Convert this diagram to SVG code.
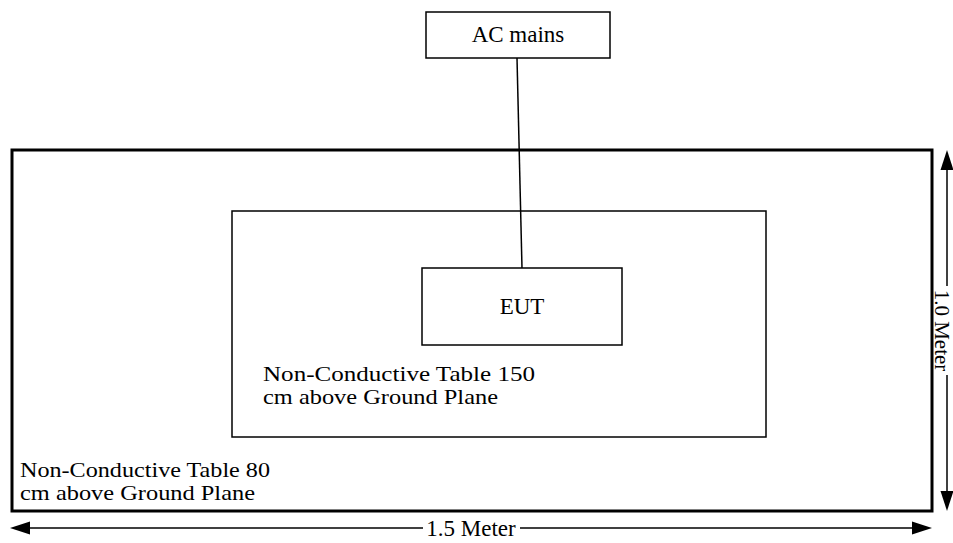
<svg xmlns="http://www.w3.org/2000/svg" width="953" height="543" viewBox="0 0 953 543">
<style>
.t{font-family:"Liberation Serif","Times New Roman",serif;font-size:23px;fill:#000}
.t2{font-family:"Liberation Serif","Times New Roman",serif;font-size:21px;fill:#000}
.box{fill:#fff;stroke:#000;stroke-width:1.5}
.thick{fill:none;stroke:#000;stroke-width:3}
.ln{stroke:#000;stroke-width:1.5;fill:none}
.ah{fill:#000}
</style>
<rect width="953" height="543" fill="#fff"/>
<g id="outer-table">
<rect class="thick" x="12" y="150" width="920" height="361"/>
<text class="t2"><tspan x="20" y="477" textLength="250" lengthAdjust="spacingAndGlyphs">Non-Conductive Table 80</tspan><tspan x="20" y="500" textLength="235" lengthAdjust="spacingAndGlyphs">cm above Ground Plane</tspan></text>
</g>
<g id="inner-table">
<rect class="box" x="232" y="211" width="534" height="226"/>
<text class="t2"><tspan x="263" y="381" textLength="272" lengthAdjust="spacingAndGlyphs">Non-Conductive Table 150</tspan><tspan x="263" y="404" textLength="235" lengthAdjust="spacingAndGlyphs">cm above Ground Plane</tspan></text>
</g>
<g id="ac-mains">
<rect class="box" x="426" y="12" width="184" height="46"/>
<text class="t" x="518" y="42" text-anchor="middle">AC mains</text>
</g>
<g id="eut">
<rect class="box" x="422" y="268" width="200" height="77"/>
<text class="t" x="522" y="314" text-anchor="middle">EUT</text>
</g>
<g id="connectors">
<line class="ln" x1="517" y1="58" x2="522" y2="268"/>
</g>
<g id="dim-horizontal">
<line class="ln" x1="26" y1="528" x2="423" y2="528"/>
<line class="ln" x1="520" y1="528" x2="916" y2="528"/>
<polygon class="ah" points="10,528 30,521.5 30,534.5"/>
<polygon class="ah" points="932,528 912,521.5 912,534.5"/>
<text class="t" x="471" y="536" text-anchor="middle">1.5 Meter</text>
</g>
<g id="dim-vertical">
<line class="ln" x1="947" y1="166" x2="947" y2="286"/>
<line class="ln" x1="947" y1="375" x2="947" y2="495"/>
<polygon class="ah" points="947,150 940.5,170 953.5,170"/>
<polygon class="ah" points="947,511 940.5,491 953.5,491"/>
<text class="t2" transform="translate(934.5,330.5) rotate(90)" x="0" y="0" text-anchor="middle">1.0 Meter</text>
</g>
</svg>
